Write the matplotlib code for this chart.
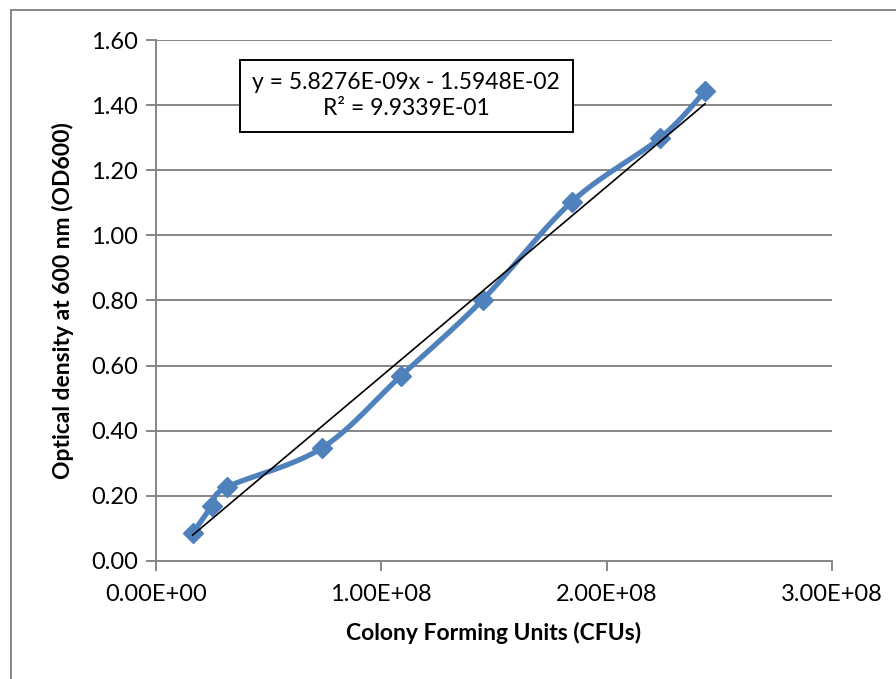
import numpy as np
import matplotlib.pyplot as plt
from matplotlib.lines import Line2D

# CFU counts vs. measured OD600
cfu = [1.63e7, 2.47e7, 3.14e7, 7.35e7, 1.087e8, 1.450e8, 1.845e8, 2.237e8, 2.437e8]
od600 = [0.085, 0.167, 0.226, 0.346, 0.568, 0.802, 1.103, 1.299, 1.443]

# linear trendline coefficients
slope = 5.8276e-09
intercept = -1.5948e-02
r_squared = 9.9339e-01

x_ticks = [0, 1e8, 2e8, 3e8]
x_tick_labels = ['0.00E+00', '1.00E+08', '2.00E+08', '3.00E+08']
y_ticks = [0.0, 0.2, 0.4, 0.6, 0.8, 1.0, 1.2, 1.4, 1.6]

BLUE = '#4F81BD'
GREY = '#868686'

plt.rcParams['font.family'] = ['Lato', 'DejaVu Sans']


def smooth_curve(xs, ys, n=40):
    """Catmull-Rom style bezier smoothing through every point."""
    pts = np.column_stack([xs, ys])
    out = []
    for i in range(len(pts) - 1):
        p0 = pts[i - 1] if i > 0 else pts[i]
        p1 = pts[i]
        p2 = pts[i + 1]
        p3 = pts[i + 2] if i + 2 < len(pts) else pts[i + 1]
        c1 = p1 + (p2 - p0) / 6.0
        c2 = p2 - (p3 - p1) / 6.0
        t = np.linspace(0, 1, n)[:, None]
        seg = ((1 - t) ** 3 * p1 + 3 * (1 - t) ** 2 * t * c1
               + 3 * (1 - t) * t ** 2 * c2 + t ** 3 * p2)
        out.append(seg if i == 0 else seg[1:])
    out = np.vstack(out)
    return out[:, 0], out[:, 1]


fig = plt.figure(figsize=(8.96, 6.79), dpi=100)
ax = fig.add_axes([0.174, 0.174, 0.7545, 0.767])

xmax, ymax = 3e8, 1.6
ax.set_xlim(0, xmax)
ax.set_ylim(0, ymax)

# smooth the curve in normalised space so both axes weigh equally
sx, sy = smooth_curve(np.array(cfu) / xmax, np.array(od600) / ymax)
ax.plot(sx * xmax, sy * ymax, color=BLUE, lw=3.8, solid_capstyle='round', zorder=3)
ax.plot(cfu, od600, ls='none', marker='D', ms=10.5, color=BLUE, zorder=4)

# trendline over the data range
tx = np.array([min(cfu), max(cfu)])
ax.plot(tx, slope * tx + intercept, color='black', lw=1.2, zorder=5)

ax.set_xticks(x_ticks)
ax.set_xticklabels(x_tick_labels)
ax.set_yticks(y_ticks)
ax.set_yticklabels(['%.2f' % v for v in y_ticks])
ax.grid(axis='y', color=GREY, lw=1.4)
ax.set_axisbelow(True)

for side in ['top', 'right']:
    ax.spines[side].set_visible(False)
for side in ['left', 'bottom']:
    ax.spines[side].set_color(GREY)
    ax.spines[side].set_linewidth(1.4)
ax.tick_params(axis='both', direction='out', length=7, width=1.4, color=GREY,
               labelsize=17, colors='black')
ax.tick_params(axis='y', pad=6)
ax.tick_params(axis='x', pad=10)

ax.set_xlabel('Colony Forming Units (CFUs)', fontsize=16.5, fontweight='bold', labelpad=12)
ax.set_ylabel('Optical density at 600 nm (OD600)', fontsize=16.5, fontweight='bold', labelpad=12)

eq = 'y = %.4Ex - %.4E\nR² = %.4E' % (slope, -intercept, r_squared)
ax.text(0.37, 0.893, eq, transform=ax.transAxes, ha='center', va='center',
        fontsize=16.5, linespacing=1.3, zorder=6,
        bbox=dict(boxstyle='square,pad=0.55', fc='white', ec='black', lw=1.4))

# chart area border
fig.add_artist(Line2D([0.0123, 0.0123], [0, 0.985], color=GREY, lw=1.4))
fig.add_artist(Line2D([0.0123, 1.0], [0.985, 0.985], color=GREY, lw=1.4))

fig.savefig('out.png', dpi=100)
